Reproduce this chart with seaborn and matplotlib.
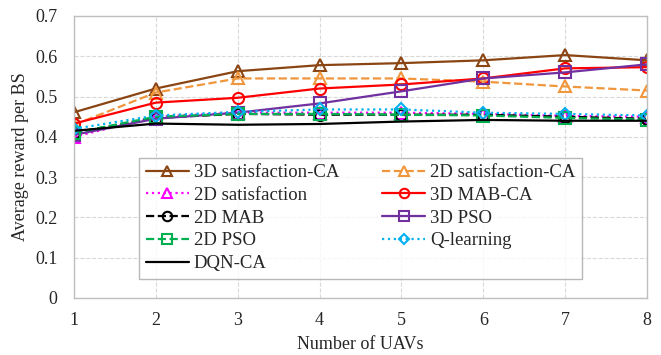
import matplotlib
matplotlib.use("Agg")
import matplotlib.pyplot as plt
import seaborn as sns
import pandas as pd

uavs = [1, 2, 3, 4, 5, 6, 7, 8]
sat3d_ca = [0.461, 0.520, 0.563, 0.578, 0.583, 0.590, 0.603, 0.590]
sat2d_ca = [0.430, 0.510, 0.545, 0.545, 0.545, 0.537, 0.525, 0.515]
sat2d = [0.400, 0.450, 0.460, 0.460, 0.460, 0.457, 0.452, 0.450]
mab3d_ca = [0.433, 0.485, 0.497, 0.520, 0.530, 0.545, 0.570, 0.573]
mab2d = [0.410, 0.447, 0.457, 0.455, 0.455, 0.455, 0.450, 0.445]
pso3d = [0.405, 0.445, 0.460, 0.483, 0.513, 0.545, 0.560, 0.580]
pso2d = [0.410, 0.450, 0.457, 0.457, 0.455, 0.453, 0.447, 0.443]
qlearn = [0.420, 0.453, 0.462, 0.468, 0.468, 0.460, 0.457, 0.453]
dqn_ca = [0.415, 0.433, 0.430, 0.432, 0.438, 0.442, 0.440, 0.440]

series = [
    ("3D satisfaction-CA", sat3d_ca, "#8B4513", "-", "^"),
    ("2D satisfaction-CA", sat2d_ca, "#F0963C", "--", "^"),
    ("2D satisfaction", sat2d, "#FF00FF", ":", "^"),
    ("3D MAB-CA", mab3d_ca, "#FF0000", "-", "o"),
    ("2D MAB", mab2d, "#000000", "--", "o"),
    ("3D PSO", pso3d, "#7030A0", "-", "s"),
    ("2D PSO", pso2d, "#00B050", "--", "s"),
    ("Q-learning", qlearn, "#00B0F0", ":", "D"),
    ("DQN-CA", dqn_ca, "#000000", "-", None),
]

sns.set_theme(style="white")
plt.rcParams['font.family'] = ['Liberation Serif', 'DejaVu Serif']

fig = plt.figure(figsize=(6.61, 3.55), dpi=100)
ax = fig.add_axes([74/661, 1-298/355, (647-74)/661, (298-16)/355])

for name, vals, color, ls, mk in series:
    df = pd.DataFrame({"x": uavs, "y": vals})
    kw = dict(color=color, linestyle=ls, linewidth=1.6, label=name)
    if mk is not None:
        ms = 6 if mk == "D" else 8
        kw.update(marker=mk, markersize=ms, markerfacecolor="none",
                  markeredgecolor=color, markeredgewidth=1.5)
    sns.lineplot(data=df, x="x", y="y", ax=ax, **kw)

ax.set_xlim(1, 8)
ax.set_ylim(0, 0.7)
ax.set_xticks(uavs)
ax.set_yticks([0, 0.1, 0.2, 0.3, 0.4, 0.5, 0.6, 0.7])
ax.set_yticklabels(["0", "0.1", "0.2", "0.3", "0.4", "0.5", "0.6", "0.7"])
ax.grid(True, color="#d9d9d9", linestyle="--", linewidth=0.8)
ax.set_axisbelow(True)
for s in ax.spines.values():
    s.set_color("#bfbfbf")
    s.set_linewidth(1.0)
ax.tick_params(axis="both", labelsize=13, length=0)
ax.tick_params(axis="y", pad=12)
ax.tick_params(axis="x", pad=10)
ax.set_xlabel("Number of UAVs", fontsize=13, labelpad=5)
ax.set_ylabel("Average reward per BS", fontsize=13, labelpad=4)

handles, labels = ax.get_legend_handles_labels()
order = [0, 2, 4, 6, 8, 1, 3, 5, 7]
leg = ax.legend([handles[i] for i in order], [labels[i] for i in order],
                loc="lower center", bbox_to_anchor=(0.5, 0.035), ncol=2,
                fontsize=13.5, frameon=True, fancybox=False, edgecolor="#a6a6a6",
                handlelength=2.3, columnspacing=2.3, labelspacing=0.3,
                borderpad=0.35, handletextpad=0.25, markerscale=0.85)
leg.get_frame().set_linewidth(1.0)

fig.savefig("out.png", dpi=100)
